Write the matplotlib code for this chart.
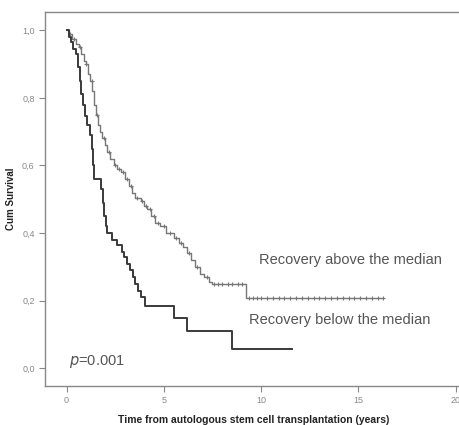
import numpy as np
import matplotlib.pyplot as plt

# Kaplan-Meier steps (years, cumulative survival after the event)
below_times = [0.0, 0.12, 0.25, 0.35, 0.5, 0.6, 0.68, 0.75, 0.85, 0.95, 1.05, 1.2,
               1.33, 1.38, 1.42, 1.75, 1.85, 1.92, 2.0, 2.1, 2.35, 2.6, 2.85, 2.95,
               3.1, 3.25, 3.4, 3.5, 3.65, 3.85, 4.05, 5.5, 6.2, 8.5]
below_surv = [1.0, 0.98, 0.965, 0.945, 0.93, 0.89, 0.85, 0.81, 0.78, 0.745, 0.72, 0.69,
              0.65, 0.60, 0.56, 0.53, 0.49, 0.45, 0.42, 0.40, 0.38, 0.365, 0.345, 0.33,
              0.31, 0.29, 0.27, 0.25, 0.23, 0.21, 0.185, 0.148, 0.111, 0.056]
below_end = 11.6

above_times = [0.0, 0.1, 0.3, 0.5, 0.62, 0.75, 0.88, 0.98, 1.1, 1.2, 1.33, 1.42, 1.5,
               1.6, 1.7, 1.83, 1.95, 2.1, 2.25, 2.45, 2.6, 2.8, 3.0, 3.2, 3.35, 3.5,
               3.8, 4.0, 4.15, 4.35, 4.55, 4.8, 5.1, 5.5, 5.8, 6.0, 6.2, 6.4, 6.6,
               6.85, 7.05, 7.3, 7.5, 9.2]
above_surv = [1.0, 0.99, 0.975, 0.96, 0.95, 0.93, 0.91, 0.90, 0.87, 0.85, 0.82, 0.78, 0.75,
              0.72, 0.70, 0.68, 0.66, 0.64, 0.62, 0.60, 0.59, 0.58, 0.56, 0.54, 0.52, 0.505,
              0.495, 0.48, 0.47, 0.45, 0.43, 0.42, 0.40, 0.385, 0.37, 0.36, 0.34, 0.32, 0.30,
              0.28, 0.27, 0.255, 0.25, 0.207]
above_end = 16.25

# censored observations (tick marks) on the upper curve
above_censor = [0.2, 0.4, 0.7, 1.0, 1.3, 1.55, 1.9, 2.2, 2.5, 2.7, 2.9, 3.1, 3.3, 3.6,
                3.9, 4.1, 4.3, 4.5, 4.7, 5.0, 5.3, 5.6, 5.9, 6.3, 6.7, 7.2, 7.6, 7.8,
                8.0, 8.3, 8.5, 8.8, 9.0, 9.4, 9.6, 9.8, 10.0, 10.3, 10.6, 10.9, 11.2,
                11.5, 11.8, 12.1, 12.4, 12.7, 13.0, 13.3, 13.6, 13.9, 14.2, 14.5,
                14.8, 15.1, 15.4, 15.7, 16.0, 16.25]

xticks = [0, 5, 10, 15, 20]
yticks = [0.0, 0.2, 0.4, 0.6, 0.8, 1.0]
ytick_labels = ['0,0', '0,2', '0,4', '0,6', '0,8', '1,0']


def step_values(times, surv, at):
    idx = np.searchsorted(times, at, side='right') - 1
    return np.asarray(surv)[idx]


plt.rcParams['font.family'] = ['Liberation Sans', 'DejaVu Sans']

fig = plt.figure(figsize=(4.6, 4.25), dpi=100)
ax = fig.add_axes([0.098, 0.092, 0.905, 0.879])

# upper curve: lighter gray with censor ticks
ax.step(above_times + [above_end], above_surv + [above_surv[-1]], where='post',
        color='#777777', lw=1.0)
ax.plot(above_censor, step_values(above_times, above_surv, above_censor), ls='none',
        marker='+', ms=3.5, mew=0.8, color='#777777')

# lower curve: solid dark line
ax.step(below_times + [below_end], below_surv + [below_surv[-1]], where='post',
        color='#3a3a3a', lw=1.4)

ax.text(9.87, 0.32, 'Recovery above the median', fontsize=10.5, color='#555555',
        va='center', ha='left')
ax.text(9.36, 0.142, 'Recovery below the median', fontsize=10.5, color='#555555',
        va='center', ha='left')
ax.text(0.1, 0.02, r'$p$=0.001', fontsize=10.5, color='#555555', va='center', ha='left')

ax.set_xlim(-1.107, 20.3)
ax.set_ylim(-0.052, 1.053)
ax.set_xticks(xticks)
ax.set_yticks(yticks)
ax.set_yticklabels(ytick_labels)
ax.tick_params(labelsize=6.5, labelcolor='#888888', color='#888888', length=4, width=0.8)

for side in ['left', 'bottom', 'top']:
    ax.spines[side].set_color('#888888')
    ax.spines[side].set_linewidth(1.0)
ax.spines['right'].set_visible(False)

ax.set_xlabel('Time from autologous stem cell transplantation (years)',
              fontsize=7.5, fontweight='bold', color='#222222', labelpad=7)
ax.set_ylabel('Cum Survival', fontsize=7, fontweight='bold', color='#222222', labelpad=4)

fig.savefig('out.png', dpi=100)
